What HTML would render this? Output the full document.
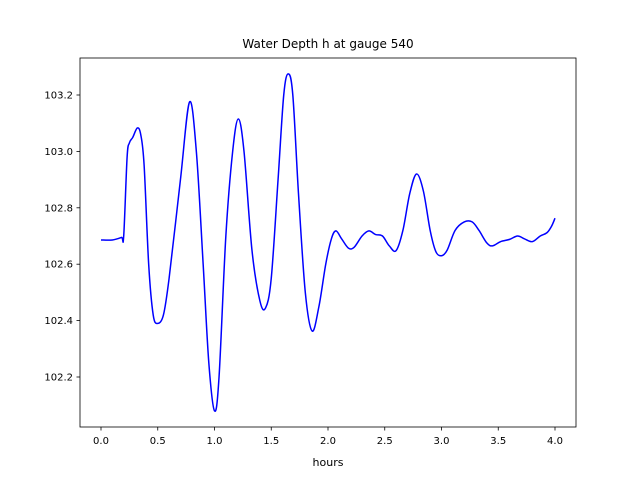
<!DOCTYPE html>
<html><head><meta charset="utf-8"><style>
body{margin:0;background:#fff}
svg text{font-family:"DejaVu Sans","Liberation Sans",sans-serif}
</style></head><body>
<svg width="640" height="480" viewBox="0 0 640 480">
<rect width="640" height="480" fill="#fff"/>
<g id="plot"></g>
<text x="328" y="48" text-anchor="middle" font-size="12">Water Depth h at gauge 540</text>
<text x="328" y="466" text-anchor="middle" font-size="11">hours</text>
</svg>
<script>
const hours=[0.0,0.1,0.18,0.2,0.23,0.25,0.28,0.32,0.35,0.38,0.42,0.46,0.5,0.55,0.6,0.7,0.78,0.84,0.9,0.95,1.0,1.04,1.1,1.16,1.21,1.26,1.33,1.4,1.45,1.5,1.56,1.61,1.65,1.69,1.74,1.8,1.86,1.92,1.98,2.03,2.07,2.12,2.18,2.23,2.3,2.36,2.42,2.48,2.54,2.6,2.66,2.72,2.78,2.84,2.9,2.95,3.0,3.05,3.12,3.2,3.27,3.33,3.4,3.45,3.52,3.6,3.67,3.73,3.8,3.87,3.93,3.97,4.0];
const depth=[102.686,102.686,102.695,102.70,102.98,103.03,103.05,103.083,103.06,102.95,102.6,102.42,102.39,102.42,102.55,102.9,103.175,103.0,102.6,102.25,102.08,102.2,102.7,103.0,103.115,103.0,102.65,102.47,102.445,102.55,102.9,103.2,103.275,103.2,102.85,102.5,102.363,102.45,102.6,102.69,102.718,102.69,102.657,102.66,102.70,102.718,102.705,102.70,102.665,102.648,102.72,102.85,102.92,102.86,102.72,102.645,102.63,102.65,102.72,102.75,102.75,102.72,102.675,102.665,102.68,102.688,102.70,102.69,102.68,102.70,102.712,102.735,102.763];
const xTicks=[0.0,0.5,1.0,1.5,2.0,2.5,3.0,3.5,4.0];
const xTickLabels=["0.0","0.5","1.0","1.5","2.0","2.5","3.0","3.5","4.0"];
const yTicks=[102.2,102.4,102.6,102.8,103.0,103.2];
const yTickLabels=["102.2","102.4","102.6","102.8","103.0","103.2"];
const L=80,R=576,T=58,B=427;
const x=v=>101+v*113.5;
const y=v=>95+(103.2-v)*282;
const g=document.getElementById('plot');
const NS='http://www.w3.org/2000/svg';
function mk(t,a){const e=document.createElementNS(NS,t);for(const k in a)e.setAttribute(k,a[k]);g.appendChild(e);return e;}
const P=hours.map((h,i)=>[x(h),y(depth[i])]);
let d='M'+P[0][0].toFixed(2)+','+P[0][1].toFixed(2);
for(let i=0;i<P.length-1;i++){
 const p0=P[Math.max(i-1,0)],p1=P[i],p2=P[i+1],p3=P[Math.min(i+2,P.length-1)];
 const c1=[p1[0]+(p2[0]-p0[0])/6,p1[1]+(p2[1]-p0[1])/6];
 const c2=[p2[0]-(p3[0]-p1[0])/6,p2[1]-(p3[1]-p1[1])/6];
 d+=' C'+c1[0].toFixed(2)+','+c1[1].toFixed(2)+' '+c2[0].toFixed(2)+','+c2[1].toFixed(2)+' '+p2[0].toFixed(2)+','+p2[1].toFixed(2);
}
const line=mk('path',{d:d,fill:'none',stroke:'#0000ff','stroke-width':1.5,'stroke-linejoin':'round'});


xTicks.forEach((v,i)=>{
 const t=mk('line',{x1:x(v),x2:x(v),y1:B,y2:B+3.5,stroke:'#000','stroke-width':0.8});
 
 
 const l=mk('text',{x:x(v),y:B+17,'text-anchor':'middle','font-size':10});
 l.textContent=xTickLabels[i];
 
 
});
yTicks.forEach((v,i)=>{
 const t=mk('line',{x1:L-3.5,x2:L,y1:y(v),y2:y(v),stroke:'#000','stroke-width':0.8});
 
 
 const l=mk('text',{x:L-7,y:y(v)+3.5,'text-anchor':'end','font-size':10});
 l.textContent=yTickLabels[i];
 
 
});
const f=mk('rect',{x:L,y:T,width:R-L,height:B-T,fill:'none',stroke:'#000','stroke-width':0.8});


</script>
</body></html>
